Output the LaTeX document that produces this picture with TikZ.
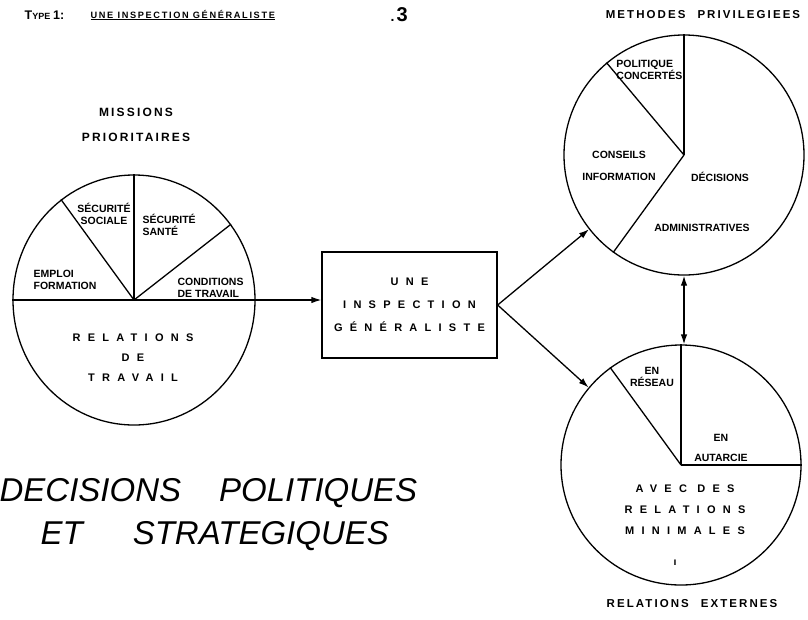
\documentclass[tikz,border=0pt]{standalone}
\usepackage{fontspec}
\setmainfont{Liberation Sans}
\newfontfamily\widefam{Liberation Sans}[LetterSpace=66]
\newfontfamily\semifam{Liberation Sans}[LetterSpace=18]
\usetikzlibrary{arrows.meta,shapes.geometric}
\begin{document}
\begin{tikzpicture}[x=1pt,y=-1pt,line width=1.3pt,
  lab/.style={font=\bfseries\fontsize{10.5}{12.5}\selectfont,inner sep=0pt,align=center},
  wlab/.style={font=\widefam\bfseries\fontsize{11}{21}\selectfont,inner sep=0pt,align=center},
  hd/.style={font=\semifam\bfseries\fontsize{12}{13}\selectfont,inner sep=0pt,align=center},
  big/.style={font=\itshape\fontsize{33}{40}\selectfont,inner sep=0pt},
  tip/.style={-{Latex[length=10pt,width=6.5pt]}},
  dtip/.style={{Latex[length=10pt,width=6.5pt]}-{Latex[length=10pt,width=6.5pt]}},
  pie/.style={draw,inner sep=0pt}]
\useasboundingbox (0,0) rectangle (808,619);

% pies and box
\node[pie,ellipse,minimum width=242pt,minimum height=250pt] (L) at (134,300) {};
\node[pie,circle,minimum size=240pt] (T) at (684,155) {};
\node[pie,circle,minimum size=240pt] (B) at (681,465) {};
\node[pie,minimum width=175pt,minimum height=106pt,
      font=\widefam\bfseries\fontsize{11}{23}\selectfont,align=center] (box) at (409.5,305)
      {UNE\\INSPECTION\\GÉNÉRALISTE};

% spokes
\draw (L.west) -- (L.east);
\draw (L.center) -- (L.north);
\draw (L.center) -- (L.126.8);
\draw (L.center) -- (L.38.9);
\draw (T.center) -- (T.north);
\draw (T.center) -- (T.130.2);
\draw (T.center) -- (T.234.8);
\draw (B.center) -- (B.north);
\draw (B.center) -- (B.126.2);
\draw (B.center) -- (B.east);

% connectors
\draw[tip] (L.east) -- (L.east -| box.west);
\draw[tip] (box.east) -- (T.218.6);
\draw[tip] (box.east) -- (B.140);
\draw[dtip] (T.south) -- (T.south |- B.north);

% header
\node[anchor=base west,inner sep=0pt,font=\bfseries] (typ) at (24,19)
  {{\fontsize{12.5}{12}\selectfont T}{\fontsize{9}{10}\selectfont YPE}\ {\fontsize{12.5}{12}\selectfont 1:}};
\node[anchor=base west,inner sep=0pt,font=\semifam\bfseries\fontsize{9.2}{10}\selectfont] (ttl) at (90,18)
  {\underline{UNE INSPECTION GÉNÉRALISTE}};
\node[anchor=base west,inner sep=0pt,font=\bfseries] (pg) at (390,21) {{\fontsize{14}{14}\selectfont .}\kern2pt{\fontsize{20}{20}\selectfont 3}};

% left pie labels
\node[hd] (mis) at (136,112) {MISSIONS};
\node[hd] (pri) at (136,137) {PRIORITAIRES};
\node[lab] (ss) at (104,214) {SÉCURITÉ\\SOCIALE};
\node[lab,align=left,anchor=west] (sst) at (142,225) {SÉCURITÉ\\SANTÉ};
\node[lab,align=left,anchor=west] (emp) at (33,280) {EMPLOI\\FORMATION};
\node[lab,align=left,anchor=west] (cond) at (177,288) {CONDITIONS\\DE TRAVAIL};
\node[wlab,font=\widefam\bfseries\fontsize{11}{20}\selectfont] (rel) at (133,358) {RELATIONS\\DE\\TRAVAIL};

% top right labels
\node[hd,font=\semifam\bfseries\fontsize{11.5}{13}\selectfont] (meth) at (703,15) {METHODES\hspace{12pt}PRIVILEGIEES};
\node[lab,align=left,anchor=east] (pol) at (683,70) {POLITIQUE\\CONCERTÉS};
\node[lab] (cons) at (619,166) {CONSEILS\\[9pt]INFORMATION};
\node[lab] (dec) at (720,177) {DÉCISIONS};
\node[lab] (adm) at (702,228) {ADMINISTRATIVES};

% bottom right labels
\node[lab] (res) at (652,377) {EN\\RÉSEAU};
\node[lab] (aut) at (721,448) {EN\\[8pt]AUTARCIE};
\node[wlab] (avec) at (685,510) {AVEC DES\\RELATIONS\\MINIMALES};
\node[lab] (tick) at (675,563) {ı};
\node[hd,font=\semifam\bfseries\fontsize{11.5}{13}\selectfont] (ext) at (692,604) {RELATIONS\hspace{12pt}EXTERNES};

% big text
\node[big,anchor=base west] (d1) at (-1,501) {DECISIONS\hspace{38pt}POLITIQUES};
\node[big,anchor=base west] (d2) at (40,544) {ET\hspace{50pt}STRATEGIQUES};
\end{tikzpicture}
\end{document}
